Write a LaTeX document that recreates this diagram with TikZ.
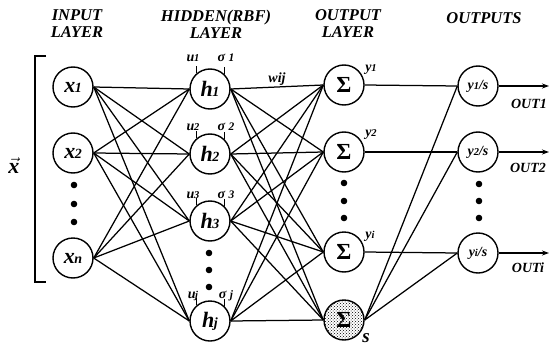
\documentclass[tikz,border=0pt]{standalone}
\usepackage{amsmath}
\usepackage{fontspec}
\setmainfont{Liberation Serif}
\usetikzlibrary{arrows.meta,patterns}

% neuron label: large letter with a small index
\newcommand{\nlab}[2]{{\bfseries\itshape\fontsize{22}{22}\selectfont #1\kern-0.5pt{\fontsize{14}{14}\selectfont #2}}}
\newcommand{\olab}[2]{{\bfseries\itshape\fontsize{14}{14}\selectfont #1{\fontsize{10.5}{10.5}\selectfont #2}/s}}
\newcommand{\sig}{{\bfseries\fontsize{23}{23}\selectfont Σ}}

\tikzset{
  neuron/.style={circle, draw, line width=1.4pt, minimum size=40pt, inner sep=0pt},
  link/.style={line width=1.25pt},
  ttl/.style={font=\bfseries\itshape\fontsize{16.5}{17}\selectfont, align=center, inner sep=0pt},
  small/.style={font=\bfseries\itshape\fontsize{14}{14}\selectfont, inner sep=0pt},
  outl/.style={font=\bfseries\itshape\fontsize{14}{14}\selectfont, inner sep=0pt},
  dotm/.style={fill=black},
}

\begin{document}
\begin{tikzpicture}[x=1pt,y=-1pt]
\useasboundingbox (0,0) rectangle (559,353);

% layer titles
\node[ttl] (t1) at (77,24) {INPUT\\LAYER};
\node[ttl] (t2) at (216,24) {HIDDEN(RBF)\\LAYER};
\node[ttl] (t3) at (348,24) {OUTPUT\\LAYER};
\node[ttl] (t4) at (484,18) {OUTPUTS};

% input layer
\node[neuron] (x1) at (73,87)  {\nlab{x}{1}};
\node[neuron] (x2) at (73,153) {\nlab{x}{2}};
\node[neuron] (xn) at (73,258) {\nlab{x}{n}};
\foreach \y in {185,204,222} \fill[dotm] (74,\y) circle (3.3);

% bracket and input vector
\draw[line width=1.4pt] (46,56) -- (35,56) -- (35,282) -- (46,282);
\node[font=\fontsize{22}{22}\selectfont] (vx) at (14,166) {$\vec{\text{\bfseries\itshape x}}$};

% hidden (RBF) layer
\node[neuron] (h1) at (210,89)  {\nlab{h}{1}};
\node[neuron] (h2) at (210,154) {\nlab{h}{2}};
\node[neuron] (h3) at (210,221) {\nlab{h}{3}};
\node[neuron] (hj) at (210,321) {\nlab{h}{j}};
\foreach \y in {253,270,287} \fill[dotm] (209,\y) circle (3.3);

% centres and widths of the RBF units
\foreach \h/\i/\yy in {h1/1/58,h2/2/127,h3/3/195,hj/j/296}{
  \node[small] (u\i) at (193,\yy) {u\kern-0.5pt{\fontsize{10.5}{10.5}\selectfont \i}};
  \node[small] (s\i) at (226,\yy) {σ {\fontsize{11.5}{11.5}\selectfont \i}};
  \draw[line width=1pt] (\h.130) -- ++(0,-7);
  \draw[line width=1pt] (\h.45) -- ++(0,-7);
}

% output layer
\node[neuron] (o1) at (344,85)  {\sig};
\node[neuron] (o2) at (344,152) {\sig};
\node[neuron] (oi) at (344,252) {\sig};
\node[neuron, pattern=crosshatch dots] (S) at (344,320) {};
\node[inner sep=0pt] at (S) {\sig};
\foreach \y in {183,201,218} \fill[dotm] (344,\y) circle (3.3);

\node[small] (ly1) at (371,70)  {y{\fontsize{10.5}{10.5}\selectfont 1}};
\node[small] (ly2) at (371,135) {y{\fontsize{10.5}{10.5}\selectfont 2}};
\node[small] (lyi) at (370,236) {y{\fontsize{10.5}{10.5}\selectfont i}};
\node[font=\bfseries\itshape\fontsize{19}{19}\selectfont, inner sep=0pt] (ls) at (366,338) {s};

% normalised outputs
\node[neuron] (n1) at (478,86)  {\olab{y}{1}};
\node[neuron] (n2) at (478,152) {\olab{y}{2}};
\node[neuron] (ni) at (478,253) {\olab{y}{i}};
\foreach \y in {184,201,218} \fill[dotm] (479,\y) circle (3.3);

% input -> hidden
\foreach \a in {x1,x2,xn}
  \foreach \b in {h1,h2,h3,hj}
    \draw[link] (\a.east) -- (\b.west);

% hidden -> output
\foreach \a in {h1,h2,h3,hj}
  \foreach \b in {o1,o2,oi,S}
    \draw[link] (\a.east) -- (\b.west);
\node[small] (w) at (277,79) {wij};

% output -> normalisation
\draw[link] (o1.east) -- (n1.west);
\draw[link] (o2.east) -- (n2.west);
\draw[link] (oi.east) -- (ni.west);
\foreach \b in {n1,n2,ni}
  \draw[link] (S.east) -- (\b.west);

% final outputs
\coordinate (e1) at (549,86);
\coordinate (e2) at (549,152);
\coordinate (e3) at (549,253);
\draw[link,-{Stealth[length=7pt,width=5pt]}] (n1.east) -- (e1);
\draw[link,-{Stealth[length=7pt,width=5pt]}] (n2.east) -- (e2);
\draw[link,-{Stealth[length=7pt,width=5pt]}] (ni.east) -- (e3);
\node[outl] (out1) at (529,104) {OUT1};
\node[outl] (out2) at (528,168) {OUT2};
\node[outl] (out3) at (528,268) {OUTi};
\end{tikzpicture}
\end{document}
